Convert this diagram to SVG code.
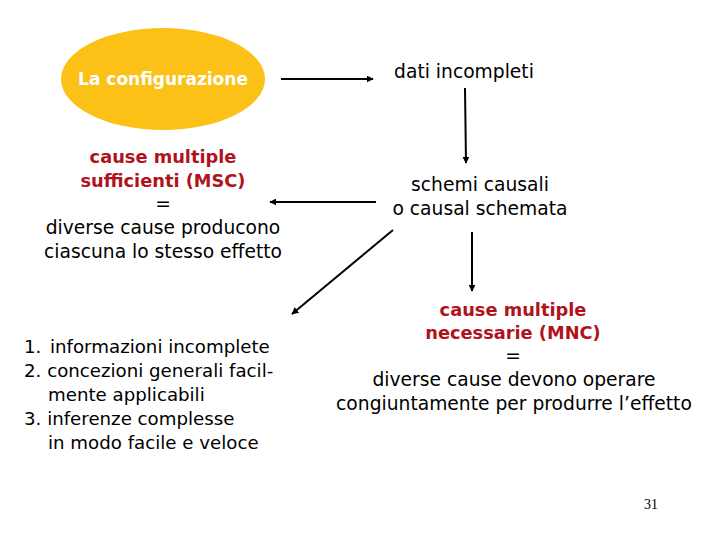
<svg xmlns="http://www.w3.org/2000/svg" width="720" height="540" viewBox="0 0 720 540">
<defs>
<style>
text{font-family:"DejaVu Sans","Liberation Sans",sans-serif;font-size:18.7px;fill:#000;text-anchor:middle}
.red{fill:#B0131B;font-weight:bold;font-size:17.8px}
.white{fill:#fff;font-weight:bold;font-size:17px}
.list{text-anchor:start;font-size:18.2px}
.num{font-family:"Liberation Serif",serif;font-size:14px}
.conn line{stroke:#000;stroke-width:2;marker-end:url(#ah)}
</style>
<marker id="ah" viewBox="0 0 10 10" refX="9" refY="5" markerWidth="3.5" markerHeight="3.5" orient="auto" markerUnits="strokeWidth">
<path d="M0,0 L10,5 L0,10 z" fill="#000"/>
</marker>
</defs>
<rect width="720" height="540" fill="#fff"/>
<g id="configurazione">
<ellipse cx="163" cy="79" rx="102" ry="51" fill="#FBC117"/>
<text class="white" x="163" y="85">La configurazione</text>
</g>
<g id="dati">
<text x="464" y="78">dati incompleti</text>
</g>
<g id="schemi">
<text x="480" y="191">schemi causali</text>
<text x="480" y="215">o causal schemata</text>
</g>
<g id="msc">
<text class="red" x="163" y="163">cause multiple</text>
<text class="red" x="163" y="187">sufficienti (MSC)</text>
<text x="163" y="210">=</text>
<text x="163" y="234">diverse cause producono</text>
<text x="163" y="258">ciascuna lo stesso effetto</text>
</g>
<g id="mnc">
<text class="red" x="513" y="316">cause multiple</text>
<text class="red" x="513" y="339">necessarie (MNC)</text>
<text x="513" y="362">=</text>
<text x="514" y="386">diverse cause devono operare</text>
<text x="514" y="410">congiuntamente per produrre l’effetto</text>
</g>
<g id="lista">
<text class="list" x="24" y="353">1.</text>
<text class="list" x="50" y="353">informazioni incomplete</text>
<text class="list" x="24" y="377">2. concezioni generali facil-</text>
<text class="list" x="48" y="401">mente applicabili</text>
<text class="list" x="24" y="425">3. inferenze complesse</text>
<text class="list" x="48" y="449">in modo facile e veloce</text>
</g>
<g id="pagina">
<text class="num" x="651" y="509">31</text>
</g>
<g class="conn" id="connectors">
<line x1="281" y1="79" x2="373" y2="79"/>
<line x1="465" y1="88" x2="466" y2="163"/>
<line x1="376" y1="202" x2="270" y2="202"/>
<line x1="393" y1="230" x2="292" y2="314"/>
<line x1="472" y1="232" x2="472" y2="291"/>
</g>
</svg>
